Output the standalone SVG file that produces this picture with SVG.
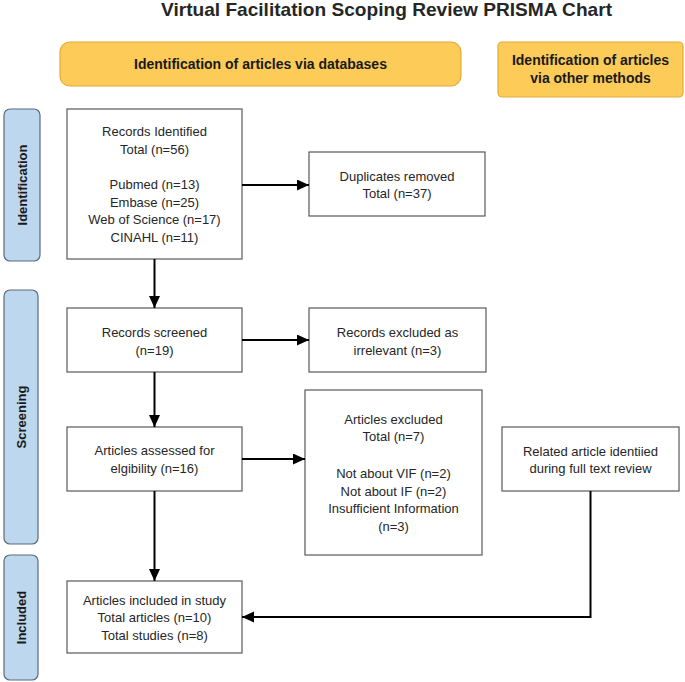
<svg xmlns="http://www.w3.org/2000/svg" width="685" height="682" viewBox="0 0 685 682">
<defs>
<marker id="arr" markerUnits="userSpaceOnUse" markerWidth="13" markerHeight="12" refX="12" refY="5.5" orient="auto">
<path d="M0,0 L12,5.5 L0,11 z" fill="#000"/>
</marker>
<style>
text{font-family:"Liberation Sans",Arial,sans-serif;fill:#262626;}
.t{font-size:13px;text-anchor:middle;}
.h{font-size:14px;font-weight:bold;text-anchor:middle;fill:#1a1a1a;}
.s{font-size:13px;font-weight:bold;text-anchor:middle;fill:#1a1a1a;}
.box{fill:#fff;stroke:#595959;stroke-width:1.2;}
.yel{fill:#FCCB58;stroke:#E2AC3A;stroke-width:1.2;}
.blu{fill:#BDD7EE;stroke:#5A6B7B;stroke-width:1.2;}
.c{fill:none;stroke:#000;stroke-width:2;}
</style>
</defs>
<rect width="685" height="682" fill="#fff"/>
<text x="386.5" y="16" font-size="19" font-weight="bold" text-anchor="middle" textLength="451" lengthAdjust="spacingAndGlyphs" fill="#1a1a1a">Virtual Facilitation Scoping Review PRISMA Chart</text>

<g id="hdr-databases">
<rect class="yel" x="60" y="42" width="401" height="44" rx="10"/>
<text class="h" x="260.5" y="69">Identification of articles via databases</text>
</g>
<g id="hdr-other">
<rect class="yel" x="498" y="42" width="185" height="55" rx="4"/>
<text class="h" x="590.5" y="65">Identification of articles</text>
<text class="h" x="590.5" y="83">via other methods</text>
</g>

<g id="lbl-identification">
<rect class="blu" x="4" y="109" width="36" height="152" rx="6"/>
<text class="s" transform="translate(26.5,185) rotate(-90)">Identification</text>
</g>
<g id="lbl-screening">
<rect class="blu" x="4" y="290" width="34" height="254" rx="6"/>
<text class="s" transform="translate(25.5,417) rotate(-90)">Screening</text>
</g>
<g id="lbl-included">
<rect class="blu" x="4" y="555" width="34" height="125" rx="6"/>
<text class="s" transform="translate(25.5,617.5) rotate(-90)">Included</text>
</g>

<g id="records-identified">
<rect class="box" x="67" y="109" width="175" height="150"/>
<text class="t" x="154.5" y="136">Records Identified</text>
<text class="t" x="154.5" y="153.5">Total (n=56)</text>
<text class="t" x="154.5" y="189">Pubmed (n=13)</text>
<text class="t" x="154.5" y="206.5">Embase (n=25)</text>
<text class="t" x="154.5" y="224">Web of Science (n=17)</text>
<text class="t" x="154.5" y="241.5">CINAHL (n=11)</text>
</g>
<g id="duplicates-removed">
<rect class="box" x="309" y="152" width="176" height="64"/>
<text class="t" x="397" y="180.5">Duplicates removed</text>
<text class="t" x="397" y="197.5">Total (n=37)</text>
</g>
<g id="records-screened">
<rect class="box" x="67" y="308" width="175" height="64"/>
<text class="t" x="154.5" y="337">Records screened</text>
<text class="t" x="154.5" y="355">(n=19)</text>
</g>
<g id="records-excluded">
<rect class="box" x="309" y="308" width="177" height="64"/>
<text class="t" x="397.5" y="337">Records excluded as</text>
<text class="t" x="397.5" y="355">irrelevant (n=3)</text>
</g>
<g id="articles-assessed">
<rect class="box" x="67" y="427" width="175" height="64"/>
<text class="t" x="154.5" y="454.5">Articles assessed for</text>
<text class="t" x="154.5" y="472.5">elgibility (n=16)</text>
</g>
<g id="articles-excluded">
<rect class="box" x="305" y="390" width="177" height="165"/>
<text class="t" x="393.5" y="423.5">Articles excluded</text>
<text class="t" x="393.5" y="441">Total (n=7)</text>
<text class="t" x="393.5" y="477.5">Not about VIF (n=2)</text>
<text class="t" x="393.5" y="495.5">Not about IF (n=2)</text>
<text class="t" x="393.5" y="513">Insufficient Information</text>
<text class="t" x="393.5" y="531">(n=3)</text>
</g>
<g id="related-article">
<rect class="box" x="502" y="427" width="177" height="64"/>
<text class="t" x="590.5" y="455.5">Related article identiied</text>
<text class="t" x="590.5" y="473">during full text review</text>
</g>
<g id="articles-included">
<rect class="box" x="67" y="581" width="175" height="72"/>
<text class="t" x="154.5" y="604.5">Articles included in study</text>
<text class="t" x="154.5" y="622">Total articles (n=10)</text>
<text class="t" x="154.5" y="640">Total studies (n=8)</text>
</g>

<g id="connectors">
<path class="c" d="M154.5,259 V308" marker-end="url(#arr)"/>
<path class="c" d="M154.5,372 V427" marker-end="url(#arr)"/>
<path class="c" d="M154.5,491 V581" marker-end="url(#arr)"/>
<path class="c" d="M242,185 H309" marker-end="url(#arr)"/>
<path class="c" d="M242,340 H309" marker-end="url(#arr)"/>
<path class="c" d="M242,459 H305" marker-end="url(#arr)"/>
<path class="c" d="M590.5,491 V617 H242" marker-end="url(#arr)"/>
</g>
</svg>
